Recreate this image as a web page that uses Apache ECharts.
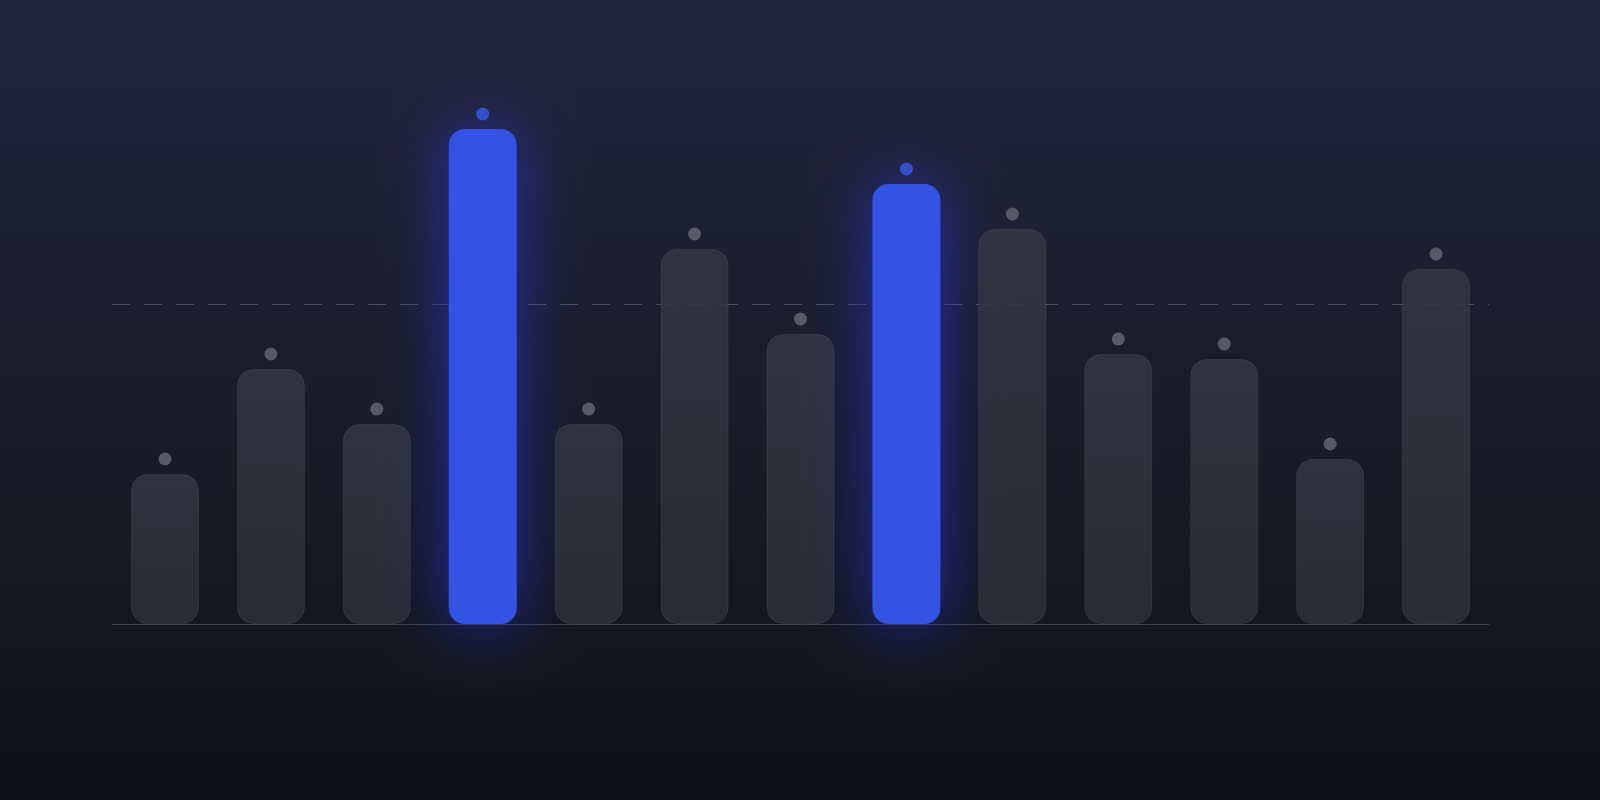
<!DOCTYPE html>
<html>
<head>
<meta charset="utf-8">
<script src="https://cdn.jsdelivr.net/npm/echarts@6/dist/echarts.min.js"></script>
<style>
html,body{margin:0;padding:0;background:#151724;}
#chart{width:1600px;height:800px;}
</style>
</head>
<body>
<div id="chart"></div>
<script>
var categories = ['1','2','3','4','5','6','7','8','9','10','11','12','13'];
var values = [30, 51, 40, 99, 40, 75, 58, 88, 79, 54, 53, 33, 71];
var highlighted = [3, 7];   // index of the blue bars
var targetLine = 64;

var greyBar = {
	color: {type:'linear', x:0, y:0, x2:0, y2:1, colorStops:[
		{offset:0, color:'rgba(52,53,67,0.88)'}, {offset:1, color:'rgba(44,45,56,0.9)'}]},
	borderColor: 'rgba(255,255,255,0.07)',
	borderWidth: 1,
	borderRadius: 16
};
var blueBar = {
	color: '#3453e3',
	borderRadius: 16,
	shadowBlur: 60,
	shadowColor: 'rgba(36,50,215,0.7)'
};

var barData = [], dotData = [];
for (var i = 0; i < values.length; i++) {
	var hi = highlighted.indexOf(i) >= 0;
	barData.push({value: values[i], itemStyle: hi ? blueBar : greyBar});
	dotData.push({value: values[i], itemStyle: {color: hi ? '#3a5be8' : '#676977'}});
}

var charts = echarts.init(document.getElementById('chart'));
var option = {
	backgroundColor: {type:'linear', x:0, y:0, x2:0, y2:1, colorStops:[
		{offset:0, color:'#22253d'}, {offset:0.5, color:'#1a1c2b'}, {offset:1, color:'#0f1118'}]},
	animation: false,
	grid: {left:112, right:111, top:124, bottom:176},
	xAxis: {
		type: 'category',
		data: categories,
		axisLine: {lineStyle: {color: '#3f4150', width: 1}},
		axisTick: {show: false},
		axisLabel: {show: false}
	},
	yAxis: {
		type: 'value', min: 0, max: 100,
		show: false,
		splitLine: {show: false}
	},
	series: [
		{
			type: 'bar',
			barWidth: 68,
			data: barData,
			markLine: {
				silent: true,
				z: 1,
				symbol: 'none',
				label: {show: false},
				lineStyle: {color: 'rgba(140,145,170,0.4)', type: [18, 14], width: 1},
				data: [{yAxis: targetLine}]
			},
			z: 2
		},
		{
			type: 'scatter',
			data: dotData,
			symbolSize: 13,
			symbolOffset: [0, -15],
			z: 3
		}
	]
};
charts.setOption(option);
</script>
</body>
</html>
